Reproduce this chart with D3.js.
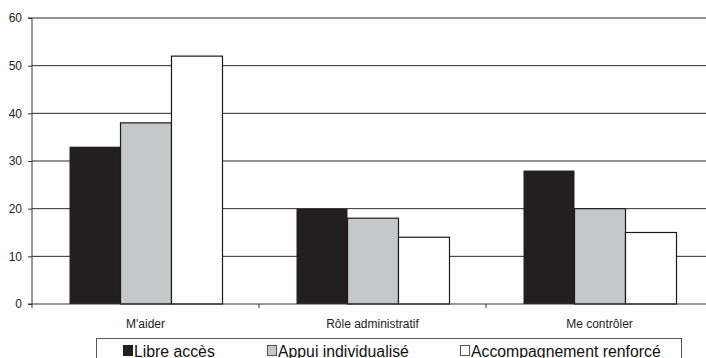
<!DOCTYPE html>
<html>
<head>
<meta charset="utf-8">
<script src="https://cdn.jsdelivr.net/npm/d3@7"></script>
<style>
  html, body { margin: 0; padding: 0; background: #fff; }
  svg { display: block; font-family: "Liberation Sans", Arial, sans-serif; }
</style>
</head>
<body>
<svg id="chart" width="706" height="358"></svg>
<script>
// Categories and series
const categories = ["M'aider", "Rôle administratif", "Me contrôler"];
const seriesNames = ["Libre accès", "Appui individualisé", "Accompagnement renforcé"];
const libreAcces = [33, 20, 28];
const appuiIndividualise = [38, 18, 20];
const accompagnementRenforce = [52, 14, 15];
const yTicks = [0, 10, 20, 30, 40, 50, 60];
const seriesFills = ["#231f20", "#c6c7c9", "#ffffff"];

const seriesValues = [libreAcces, appuiIndividualise, accompagnementRenforce];
const rows = categories.map((c, i) => ({
  category: c,
  values: seriesNames.map((s, j) => ({ series: s, value: seriesValues[j][i], idx: j }))
}));

const svg = d3.select("#chart");
const plotLeft = 32, plotRight = 713, plotTop = 18, plotBottom = 304;

const x0 = d3.scaleBand().domain(categories).range([plotLeft, plotRight]).paddingInner(0).paddingOuter(0);
const x1 = d3.scaleBand().domain(seriesNames).range([37, x0.bandwidth() - 37]);
const y = d3.scaleLinear().domain([0, 60]).range([plotBottom, plotTop]);

// Horizontal gridlines
svg.append("g").selectAll("line").data(yTicks.filter(t => t > 0)).join("line")
  .attr("x1", plotLeft).attr("x2", plotRight)
  .attr("y1", d => y(d)).attr("y2", d => y(d))
  .attr("stroke", "#2a2a2a").attr("stroke-width", 1);

// Bars
const groups = svg.append("g").selectAll("g").data(rows).join("g")
  .attr("transform", d => `translate(${x0(d.category)},0)`);
groups.selectAll("rect").data(d => d.values).join("rect")
  .attr("x", d => x1(d.series) + 0.5)
  .attr("y", d => y(d.value))
  .attr("width", x1.bandwidth())
  .attr("height", d => plotBottom - y(d.value))
  .attr("fill", d => seriesFills[d.idx])
  .attr("stroke", "#1a1a1a")
  .attr("stroke-width", d => d.idx === 0 ? 0 : 1.2);

// Y axis
const yAxis = d3.axisLeft(y).tickValues(yTicks).tickSize(4).tickPadding(6);
const gy = svg.append("g").attr("transform", `translate(${plotLeft},0)`).call(yAxis);
gy.select(".domain").attr("stroke", "#333").attr("d", `M-4,${plotTop}H0V${plotBottom}H-4`);
gy.selectAll(".tick line").attr("stroke", "#333");
gy.selectAll(".tick text").attr("font-size", 12).attr("fill", "#222")
  .attr("font-family", "'Liberation Sans', Arial, sans-serif");

// X axis with ticks at category boundaries
svg.append("line").attr("x1", plotLeft).attr("x2", plotRight).attr("y1", plotBottom).attr("y2", plotBottom)
  .attr("stroke", "#333").attr("stroke-width", 1.2);
svg.append("g").selectAll("line").data(categories).join("line")
  .attr("x1", d => x0(d)).attr("x2", d => x0(d))
  .attr("y1", plotBottom).attr("y2", plotBottom + 4)
  .attr("stroke", "#333");
svg.append("g").selectAll("text").data(categories).join("text")
  .attr("x", d => x0(d) + x0.bandwidth() / 2)
  .attr("y", 328)
  .attr("text-anchor", "middle")
  .attr("font-size", 12).attr("fill", "#222")
  .text(d => d);

// Legend
svg.append("rect").attr("x", 96.5).attr("y", 338.5).attr("width", 585).attr("height", 30)
  .attr("fill", "#fff").attr("stroke", "#555").attr("stroke-width", 1);
const legendX = [123, 267, 460];
const lg = svg.append("g").selectAll("g").data(seriesNames).join("g")
  .attr("transform", (d, i) => `translate(${legendX[i]},345)`);
lg.append("rect").attr("x", 0.5).attr("y", 0.5).attr("width", 9).attr("height", 10)
  .attr("fill", (d, i) => seriesFills[i])
  .attr("stroke", (d, i) => i === 0 ? "#231f20" : "#555");
lg.append("text").attr("x", 11).attr("y", 11.5)
  .attr("font-size", 15.8).attr("fill", "#111")
  .text(d => d);
</script>
</body>
</html>
